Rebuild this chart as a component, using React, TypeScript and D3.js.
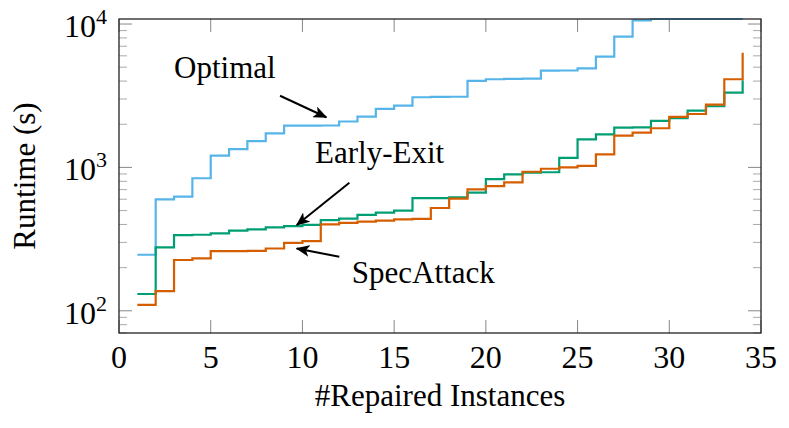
import React, { useEffect, useRef } from 'react'
import * as d3 from 'd3'

// #Repaired Instances (x) and runtimes in seconds for each method
const instances = [1, 2, 3, 4, 5, 6, 7, 8, 9, 10, 11, 12, 13, 14, 15, 16, 17, 18, 19, 20, 21, 22, 23, 24, 25, 26, 27, 28, 29, 30, 31, 32, 33, 34]
const optimal = [246, 599, 625, 840, 1208, 1343, 1527, 1729, 1955, 1955, 1960, 2090, 2258, 2560, 2700, 3085, 3100, 3110, 4010, 4120, 4150, 4160, 4730, 4740, 4900, 5930, 8170, 10620, 10840, 10840, 10840, 10840, 10840, 10840]
const earlyExit = [131, 277, 337, 339, 347, 362, 370, 382, 390, 398, 429, 439, 466, 483, 500, 611, 611, 618, 666, 829, 895, 918, 925, 1164, 1571, 1702, 1892, 1900, 2109, 2202, 2488, 2670, 3320, 4050]
const specAttack = [110, 137, 226, 232, 261, 261, 262, 272, 298, 306, 401, 410, 418, 425, 434, 438, 521, 606, 703, 741, 787, 933, 979, 1002, 1024, 1234, 1664, 1746, 1875, 2248, 2358, 2740, 4120, 6310]

const xTicks = [0, 5, 10, 15, 20, 25, 30, 35]
const yMajor = [100, 1000, 10000]
const yExponents = ['2', '3', '4']

const series = [
    { name: 'Optimal', values: optimal, color: '#56B4E9' },
    { name: 'Early-Exit', values: earlyExit, color: '#009E73' },
    { name: 'SpecAttack', values: specAttack, color: '#D55E00' },
]

// text labels with arrows, in axis coordinates
const notes = [
    { text: 'Optimal', at: [3.0, 4226], from: [8.78, 3162], to: [11.3, 2237] },
    { text: 'Early-Exit', at: [10.69, 1068], from: [12.56, 782], to: [9.69, 396] },
    { text: 'SpecAttack', at: [12.69, 155], from: [12.01, 238], to: [9.69, 272] },
]

const W = 789, H = 428
const left = 119, right = 761, top = 19, bottom = 333
const serif = '"Liberation Serif", "Times New Roman", serif'

export default function App() {
    const node = useRef<SVGSVGElement>(null)

    useEffect(() => {
        const svg = d3.select(node.current)
        svg.selectAll('*').remove()

        const x = d3.scaleLinear().domain([0, 35]).range([left, right])
        const y = d3.scaleLog().domain([70, 10840]).range([bottom, top])

        const defs = svg.append('defs')
        defs.append('clipPath').attr('id', 'plot')
            .append('rect').attr('x', left).attr('y', top - 1)
            .attr('width', right - left).attr('height', bottom - top + 1)
        defs.append('marker').attr('id', 'head')
            .attr('viewBox', '0 0 12 10').attr('refX', 11).attr('refY', 5)
            .attr('markerWidth', 7).attr('markerHeight', 6).attr('orient', 'auto')
            .attr('markerUnits', 'strokeWidth')
            .append('path').attr('d', 'M0,0 L12,5 L0,10 L3,5 Z').attr('fill', '#000')

        // minor log ticks
        const minor: number[] = []
        for (let e = 1; e <= 4; e++) {
            for (let m = 2; m <= 9; m++) {
                const v = m * Math.pow(10, e)
                if (v >= 70 && v <= 10840) minor.push(v)
            }
        }
        const ticks = svg.append('g')
        minor.forEach(v => {
            ticks.append('line').attr('x1', left).attr('x2', left + 8).attr('y1', y(v)).attr('y2', y(v))
                .attr('stroke', '#aaa').attr('stroke-width', 1)
            ticks.append('line').attr('x1', right).attr('x2', right - 8).attr('y1', y(v)).attr('y2', y(v))
                .attr('stroke', '#aaa').attr('stroke-width', 1)
        })
        yMajor.forEach(v => {
            ticks.append('line').attr('x1', left).attr('x2', left + 13).attr('y1', y(v)).attr('y2', y(v))
                .attr('stroke', '#888').attr('stroke-width', 1)
            ticks.append('line').attr('x1', right).attr('x2', right - 13).attr('y1', y(v)).attr('y2', y(v))
                .attr('stroke', '#888').attr('stroke-width', 1)
        })
        xTicks.forEach(t => {
            ticks.append('line').attr('x1', x(t)).attr('x2', x(t)).attr('y1', bottom).attr('y2', bottom - 13)
                .attr('stroke', '#888').attr('stroke-width', 1)
            ticks.append('line').attr('x1', x(t)).attr('x2', x(t)).attr('y1', top).attr('y2', top + 13)
                .attr('stroke', '#888').attr('stroke-width', 1)
        })

        const line = d3.line<number>()
            .x((d, i) => x(instances[i]))
            .y(d => y(d))
            .curve(d3.curveStepAfter)

        const lines = svg.append('g').attr('clip-path', 'url(#plot)')
        series.forEach(s => {
            lines.append('path').attr('d', line(s.values))
                .attr('fill', 'none').attr('stroke', s.color).attr('stroke-width', 2.2)
        })

        // frame
        svg.append('rect').attr('x', left).attr('y', top)
            .attr('width', right - left).attr('height', bottom - top)
            .attr('fill', 'none').attr('stroke', '#222').attr('stroke-width', 1.3)

        // x tick labels
        svg.append('g').selectAll('text').data(xTicks).enter().append('text')
            .attr('x', d => x(d)).attr('y', 368)
            .attr('text-anchor', 'middle')
            .style('font-family', serif).style('font-size', '32px')
            .text(d => d)

        // y tick labels 10^n
        yMajor.forEach((v, i) => {
            const t = svg.append('text').attr('x', 107).attr('y', y(v) + 13)
                .attr('text-anchor', 'end')
                .style('font-family', serif).style('font-size', '32px')
            t.append('tspan').text('10')
            t.append('tspan').attr('dy', -13).style('font-size', '22px').text(yExponents[i])
        })

        svg.append('text').attr('x', (left + right) / 2).attr('y', 406)
            .attr('text-anchor', 'middle')
            .style('font-family', serif).style('font-size', '31px')
            .text('#Repaired Instances')
        svg.append('text')
            .attr('transform', `translate(35,${(top + bottom) / 2}) rotate(-90)`)
            .attr('text-anchor', 'middle')
            .style('font-family', serif).style('font-size', '31px')
            .text('Runtime (s)')

        // annotations
        notes.forEach(n => {
            svg.append('text').attr('x', x(n.at[0])).attr('y', y(n.at[1]))
                .style('font-family', serif).style('font-size', '31px')
                .text(n.text)
            svg.append('line')
                .attr('x1', x(n.from[0])).attr('y1', y(n.from[1]))
                .attr('x2', x(n.to[0])).attr('y2', y(n.to[1]))
                .attr('stroke', '#000').attr('stroke-width', 2)
                .attr('marker-end', 'url(#head)')
        })
    }, [])

    return (
        <svg ref={node} width={W} height={H}
            style={{ position: 'absolute', left: 0, top: 0, background: '#fff' }} />
    )
}
